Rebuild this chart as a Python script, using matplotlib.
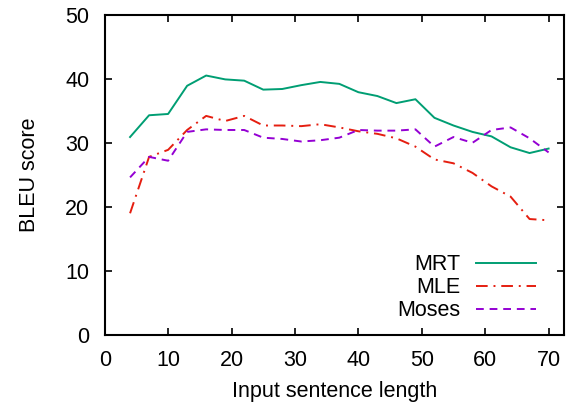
import matplotlib
matplotlib.use("Agg")
import matplotlib.pyplot as plt

plt.rcParams['font.family'] = ['Liberation Sans', 'DejaVu Sans']

lengths = [4, 7, 10, 13, 16, 19, 22, 25, 28, 31, 34, 37, 40, 43, 46, 49, 52, 55, 58, 61, 64, 67, 70]
mrt = [30.9, 34.3, 34.5, 38.9, 40.5, 39.9, 39.7, 38.3, 38.4, 39.0, 39.5, 39.2, 37.9, 37.3, 36.2, 36.8,
       33.9, 32.7, 31.7, 31.0, 29.3, 28.4, 29.1]
mle = [19.0, 27.8, 28.9, 32.0, 34.2, 33.4, 34.2, 32.7, 32.7, 32.6, 32.9, 32.4, 31.8, 31.4, 30.7, 29.4,
       27.4, 26.8, 25.3, 23.2, 21.6, 18.1, 17.9]
moses = [24.6, 27.8, 27.2, 31.7, 32.1, 32.0, 32.0, 30.8, 30.6, 30.2, 30.4, 30.8, 32.0, 31.9, 31.9, 32.1,
         29.4, 30.9, 30.0, 32.0, 32.4, 30.7, 28.5]

fig = plt.figure(figsize=(5.69, 4.08), dpi=100)
ax = fig.add_axes([0.184, 0.179, 0.808, 0.785])

ax.plot(lengths, mrt, color='#009e73', lw=1.4, label='MRT')
ax.plot(lengths, mle, color='#e51e10', lw=1.4, dashes=(6, 3, 1, 3), label='MLE')
ax.plot(lengths, moses, color='#9400d3', lw=1.4, dashes=(4, 3), label='Moses')

ax.set_xlim(0, 72.5)
ax.set_ylim(0, 50)
ax.set_xticks(range(0, 71, 10))
ax.set_yticks(range(0, 51, 10))
ax.tick_params(direction='in', top=True, right=True, length=5, width=1.2, labelsize=15.5, pad=11)
for s in ax.spines.values():
    s.set_linewidth(1.5)

ax.set_xlabel('Input sentence length', fontsize=15.5, labelpad=7)
ax.set_ylabel('BLEU score', fontsize=15.5, labelpad=18)

leg = ax.legend(loc='lower right', frameon=False, fontsize=15.5, markerfirst=False,
                handlelength=2.8, labelspacing=0.1, borderaxespad=0.6, handletextpad=0.7,
                bbox_to_anchor=(0.985, -0.025))
for t in leg.get_texts():
    t.set_ha('right')

fig.savefig('out.png', dpi=100)
